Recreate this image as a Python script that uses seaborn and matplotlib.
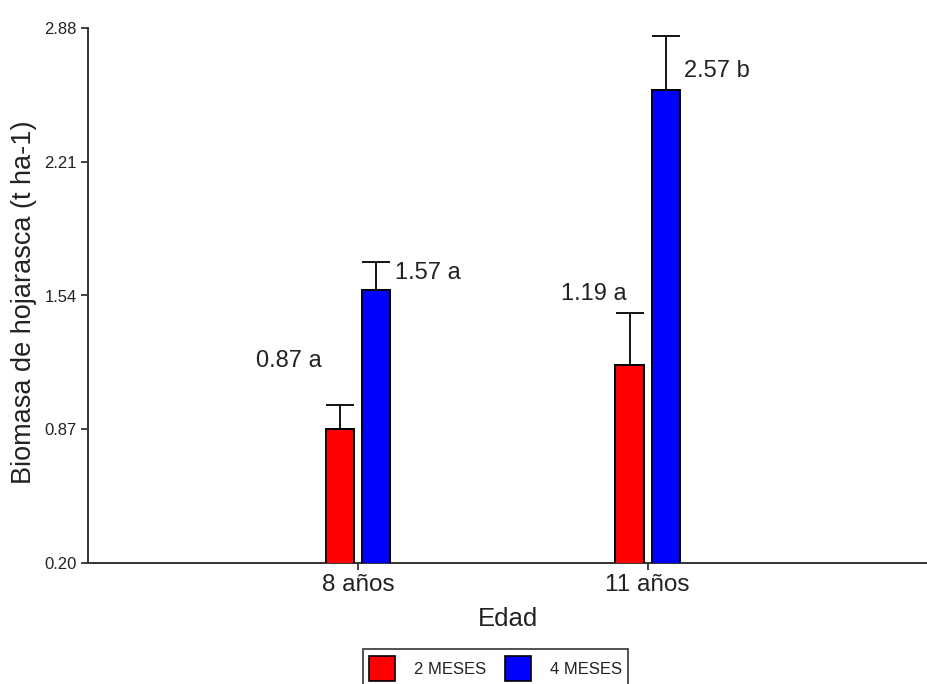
import matplotlib
matplotlib.use("Agg")
import matplotlib.pyplot as plt
import seaborn as sns
import pandas as pd
from matplotlib.patches import Patch

# Data: leaf-litter biomass by stand age and collection period
edades = ["8 años", "11 años"]
periodos = ["2 MESES", "4 MESES"]
biomasa_2m = [0.87, 1.19]
biomasa_4m = [1.57, 2.57]
error_2m = [0.12, 0.26]
error_4m = [0.14, 0.27]
letras_2m = ["a", "a"]
letras_4m = ["a", "b"]
y_ticks = [0.20, 0.87, 1.54, 2.21, 2.88]
colores = {"2 MESES": "#FF0000", "4 MESES": "#0000FF"}

df = pd.DataFrame({
    "Edad": edades * 2,
    "Periodo": [periodos[0]] * 2 + [periodos[1]] * 2,
    "Biomasa": biomasa_2m + biomasa_4m,
    "Error": error_2m + error_4m,
})

sns.set_style("ticks")
plt.rcParams["font.family"] = ["Liberation Sans", "DejaVu Sans"]
ink = "#222222"

fig = plt.figure(figsize=(9.27, 6.84), dpi=100)
ax = fig.add_axes([88 / 927, 1 - 563 / 684, (927 - 88) / 927, (563 - 28) / 684])

sns.barplot(data=df, x="Edad", y="Biomasa", hue="Periodo", order=edades,
            hue_order=periodos, palette=colores, width=0.25, gap=0.22,
            edgecolor="black", linewidth=1.4, errorbar=None, legend=False,
            saturation=1, ax=ax, zorder=3)

# Upper error bars and value labels with significance letters
label_dy = [[0.22, 0.10], [-0.055, -0.175]]
for h, (container, per) in enumerate(zip(ax.containers, periodos)):
    sub = df[df["Periodo"] == per].set_index("Edad").loc[edades]
    letras = letras_2m if h == 0 else letras_4m
    xs = []
    for i, (bar, edad) in enumerate(zip(container.patches, edades)):
        xc = bar.get_x() + bar.get_width() / 2
        xs.append(xc)
        mean = sub.loc[edad, "Biomasa"]
        err = sub.loc[edad, "Error"]
        y_lab = mean + err + label_dy[h][i]
        if h == 0:
            x_lab = bar.get_x() - (0.015 if i == 0 else -0.04)
            ha = "right"
        else:
            x_lab = bar.get_x() + bar.get_width() + 0.016
            ha = "left"
        ax.text(x_lab, y_lab, f"{mean:.2f} {letras[i]}", ha=ha, va="center",
                fontsize=17, color=ink, zorder=5)
    means = sub["Biomasa"].values
    errs = sub["Error"].values
    ax.errorbar(xs, means, yerr=[[0] * len(errs), errs], fmt="none",
                ecolor="black", elinewidth=1.3, capsize=10, capthick=1.3,
                zorder=2)

ax.set_ylim(0.20, 2.88)
ax.set_xlim(-0.933, 1.965)
ax.set_yticks(y_ticks)
ax.set_yticklabels([f"{v:.2f}" for v in y_ticks])
ax.set_xlabel("Edad", fontsize=18.5, color=ink, labelpad=8)
ax.set_ylabel("Biomasa de hojarasca (t ha-1)", fontsize=19.5, color=ink)
ax.yaxis.set_label_coords(-0.061, 0.487)
ax.tick_params(axis="y", labelsize=12, length=5, width=1.3, color="#333333",
               labelcolor=ink, pad=3)
ax.tick_params(axis="x", labelsize=17.5, length=5, width=1.3, color="#333333",
               labelcolor=ink, pad=3)
for side in ["top", "right"]:
    ax.spines[side].set_visible(False)
for side in ["left", "bottom"]:
    ax.spines[side].set_color("#333333")
    ax.spines[side].set_linewidth(1.4)

handles = [Patch(facecolor=colores[p], edgecolor="black", linewidth=1.2, label=p)
           for p in periodos]
leg = fig.legend(handles=handles, loc="upper center", ncol=2,
                 bbox_to_anchor=(495.5 / 927, 1 - 649 / 684), fontsize=12,
                 frameon=True, fancybox=False, edgecolor="black",
                 handlelength=1.55, handleheight=2.0, handletextpad=1.15,
                 columnspacing=1.1, borderpad=0.4, borderaxespad=0)
leg.get_frame().set_linewidth(1.2)
for t in leg.get_texts():
    t.set_color(ink)

fig.savefig("out.png", dpi=100)
